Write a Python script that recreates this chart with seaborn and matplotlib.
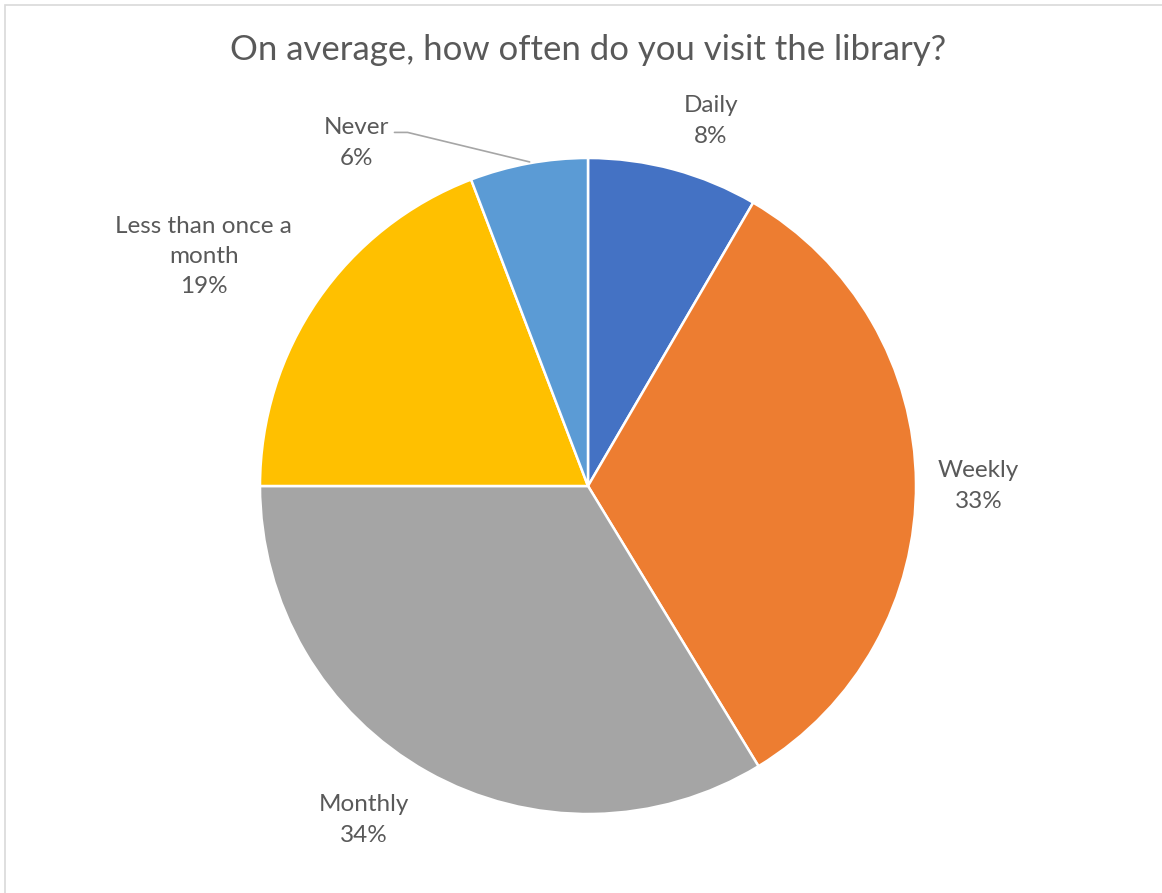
import matplotlib
matplotlib.use('Agg')
import matplotlib.pyplot as plt
import seaborn as sns
from matplotlib.patches import Rectangle

sns.set_theme(style='white')
plt.rcParams['font.family'] = ['Lato', 'DejaVu Sans']

categories = ['Daily', 'Weekly', 'Monthly', 'Less than once a\nmonth', 'Never']
shares = [8.4, 32.9, 33.7, 19.2, 5.8]  # % of respondents
colors = sns.color_palette(['#4472C4', '#ED7D31', '#A5A5A5', '#FFC000', '#5B9BD5'])

# label placement in pie units (radius = 1)
label_pos = [(0.375, 1.113), (1.19, 0.0), (-0.683, -1.018), (-1.171, 0.70), (-0.707, 1.046)]

W, H = 1162, 893
fig = plt.figure(figsize=(W / 100, H / 100), dpi=100)
cx, cy, r = 588, 486, 328
ax = fig.add_axes([(cx - r) / W, (H - cy - r) / H, 2 * r / W, 2 * r / H])

wedges, _ = ax.pie(shares, colors=colors, startangle=90, counterclock=False,
                   radius=1, wedgeprops=dict(edgecolor='white', linewidth=1.8))
ax.set_xlim(-1, 1)
ax.set_ylim(-1, 1)
ax.set_aspect('equal')
ax.axis('off')

txt = '#595959'
for cat, val, (x, y) in zip(categories, shares, label_pos):
    ax.text(x, y, f'{cat}\n{round(val)}%', ha='center', va='center',
            fontsize=17.5, color=txt, linespacing=1.55, clip_on=False)

# leader line for the small "Never" slice
ax.plot([-0.59, -0.55, -0.178], [1.078, 1.078, 0.988], color='#A6A6A6', lw=1.2, clip_on=False)

fig.text(cx / W, 1 - 50 / H, 'On average, how often do you visit the library?',
         ha='center', va='center', fontsize=25, color=txt)

fig.patches.append(Rectangle((5 / W, -0.05), 1.1, 1 - 5 / H + 0.05, transform=fig.transFigure,
                             fill=False, edgecolor='#D9D9D9', lw=1.2))

fig.savefig('out.png', dpi=100)
